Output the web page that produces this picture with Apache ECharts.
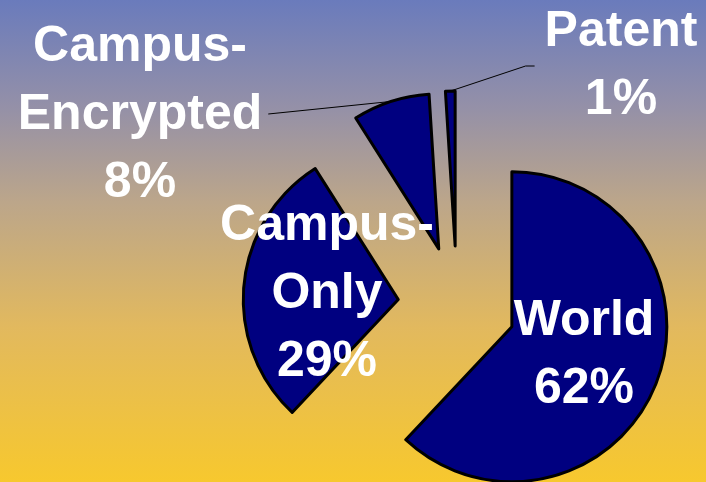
<!DOCTYPE html>
<html>
<head>
<meta charset="utf-8">
<script src="https://cdn.jsdelivr.net/npm/echarts@6/dist/echarts.min.js"></script>
<style>
  html, body { margin: 0; padding: 0; }
  #chart { width: 706px; height: 482px; }
</style>
</head>
<body>
<div id="chart"></div>
<script>
// slices, clockwise from 12 o'clock
const categories = ['World', 'Campus-Only', 'Campus-Encrypted', 'Patent'];
const shares = [62, 29, 8, 1];

// where each label block sits (centre of the text)
const labelPos = [[584, 355], [327, 294], [140, 115], [621, 66]];
const showLine = [false, false, true, true];

const PIE_CENTER = [457, 305];
const PIE_RADIUS = 155;
const EXPLODE = 59;

const total = shares.reduce((a, b) => a + b, 0);
// direction a slice is pulled out in, from the shares
function explodeVector(i) {
  const before = shares.slice(0, i).reduce((a, b) => a + b, 0);
  const mid = (90 - 360 * (before + shares[i] / 2) / total) * Math.PI / 180;
  return [Math.cos(mid) * EXPLODE, -Math.sin(mid) * EXPLODE];
}

const chart = echarts.init(document.getElementById('chart'));

const sliceData = categories.map((name, i) => ({ name: name, value: shares[i] }));

chart.setOption({
  backgroundColor: {
    type: 'linear', x: 0, y: 0, x2: 0, y2: 1,
    colorStops: [
      { offset: 0, color: '#6a7bbc' },
      { offset: 0.22, color: '#9490a8' },
      { offset: 0.42, color: '#bca68a' },
      { offset: 0.68, color: '#e2b95e' },
      { offset: 1, color: '#f7c82e' }
    ]
  },
  animation: false,
  series: [
    {
      // the exploded slices
      type: 'pie',
      center: PIE_CENTER,
      radius: [0, PIE_RADIUS],
      startAngle: 90,
      clockwise: true,
      selectedMode: 'multiple',
      selectedOffset: EXPLODE,
      silent: true,
      itemStyle: { color: '#000080', borderColor: '#000', borderWidth: 3 },
      label: { show: false },
      labelLine: { show: false },
      data: sliceData.map(d => Object.assign({ selected: true }, d))
    },
    {
      // same pie, invisible, only carries the labels
      type: 'pie',
      center: PIE_CENTER,
      radius: [0, PIE_RADIUS],
      startAngle: 90,
      clockwise: true,
      silent: true,
      z: 3,
      avoidLabelOverlap: false,
      itemStyle: { color: 'rgba(0,0,0,0)', borderWidth: 0 },
      label: {
        show: true,
        position: 'outside',
        color: '#fff',
        fontFamily: '"Liberation Sans", Arial, sans-serif',
        fontWeight: 'bold',
        fontSize: 50,
        lineHeight: 68,
        align: 'center',
        formatter: p => p.name.replace('-', '-\n') + '\n' + Math.round(p.percent) + '%'
      },
      labelLine: { lineStyle: { color: '#000', width: 1 } },
      labelLayout: function (params) {
        const i = params.dataIndex;
        const [x, y] = labelPos[i];
        const out = { x: x, y: y, align: 'center', verticalAlign: 'middle' };
        if (showLine[i] && params.labelLinePoints) {
          const v = explodeVector(i);
          const p0 = params.labelLinePoints[0];
          const start = [p0[0] + v[0], p0[1] + v[1]];
          const half = params.labelRect.width / 2;
          if (x < start[0]) {
            const end = [x + half + 6, y - 1];
            out.labelLinePoints = [start, end, end];
          } else {
            const end = [x - half - 10, y];
            out.labelLinePoints = [start, [end[0] - 9, end[1]], end];
          }
        }
        return out;
      },
      data: sliceData.map((d, i) => Object.assign({ labelLine: { show: showLine[i] } }, d))
    }
  ]
});
</script>
</body>
</html>
